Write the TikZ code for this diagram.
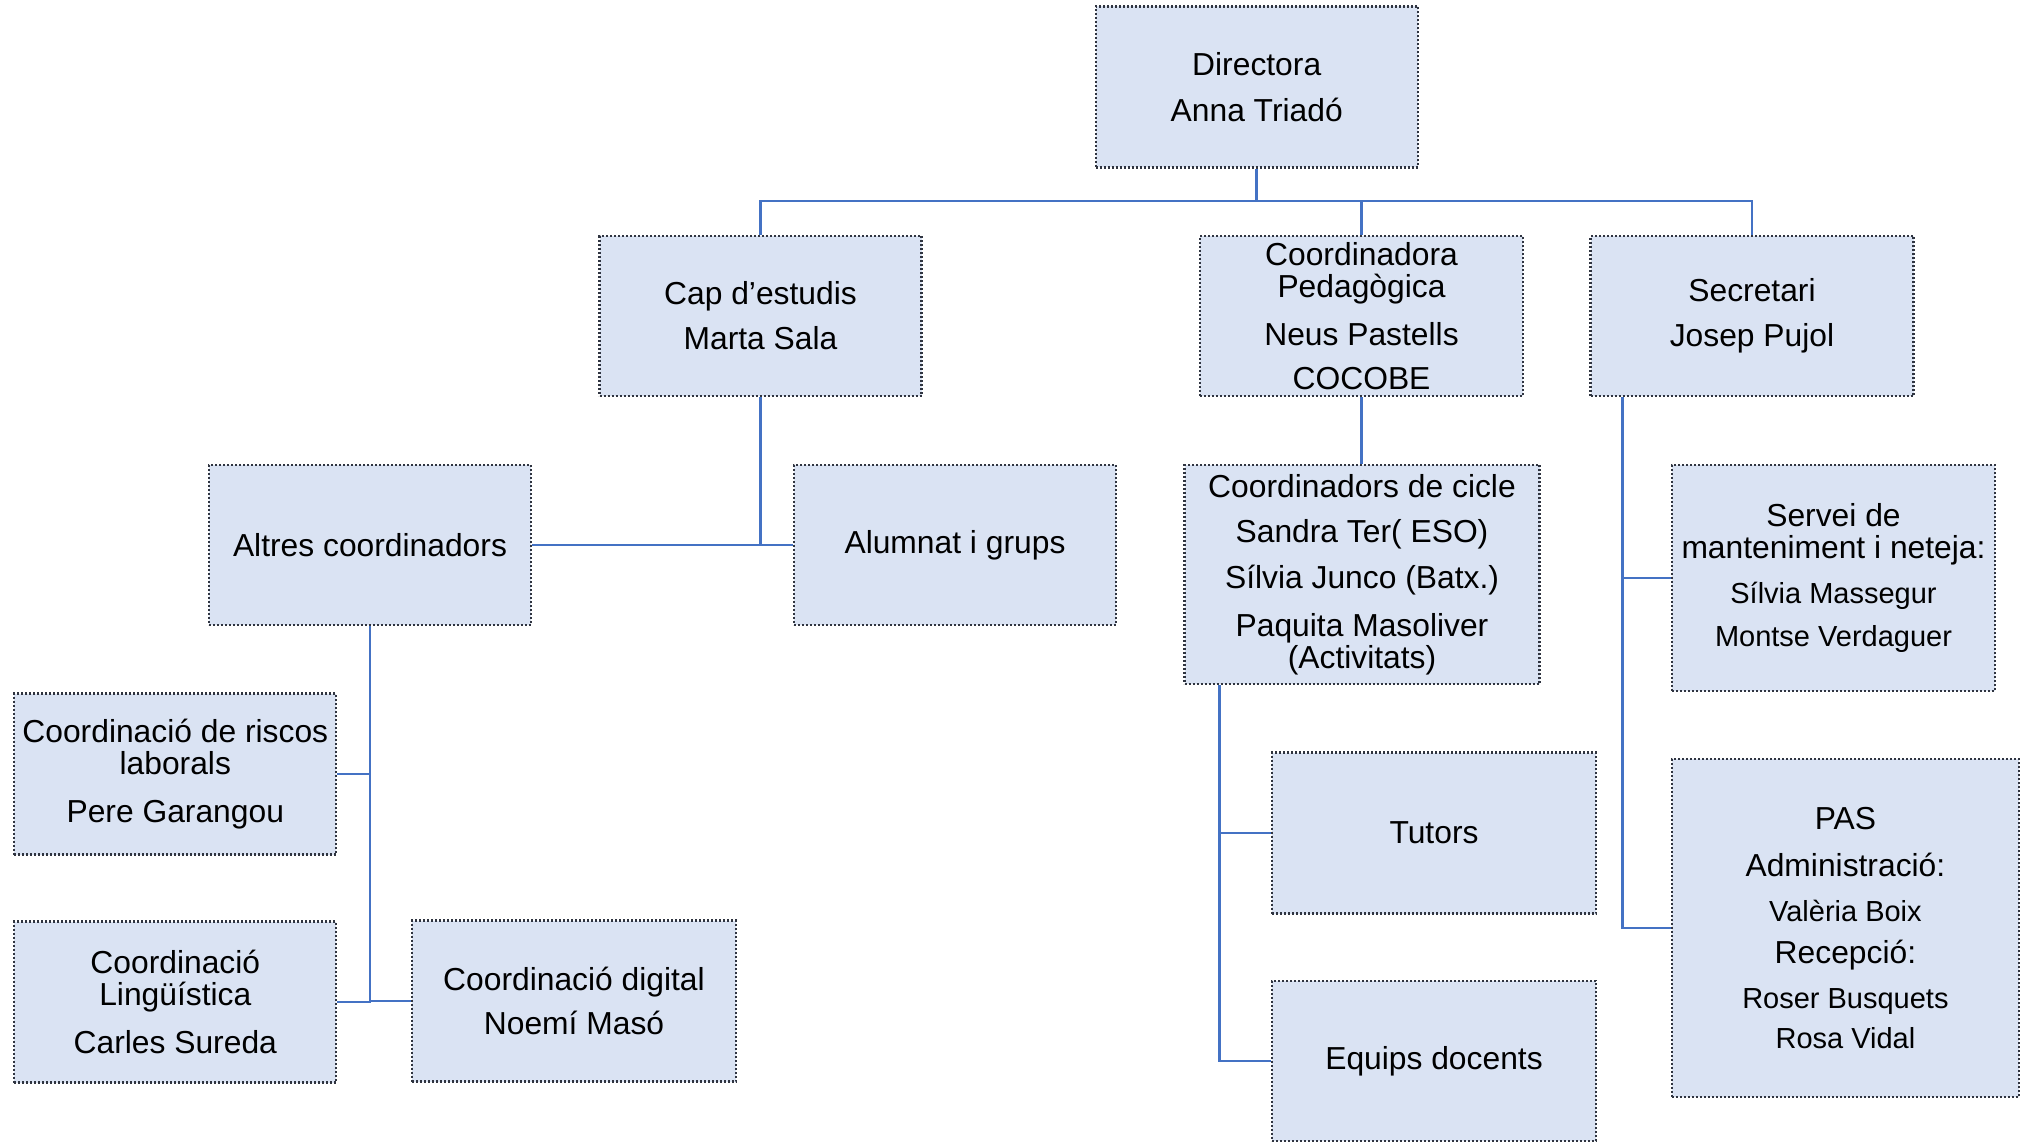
\documentclass[tikz,border=0pt]{standalone}
\usepackage{fontspec}
\setmainfont{Liberation Sans}
\newcommand\mainsz{\fontsize{31.8}{32}\selectfont}
\newcommand\smallsz{\fontsize{29}{32}\selectfont}
\definecolor{boxfill}{HTML}{DAE3F3}
\definecolor{boxline}{HTML}{2F3440}
\definecolor{connblue}{HTML}{4472C4}
\begin{document}
\begin{tikzpicture}[x=1pt,y=-1pt,
  orgbox/.style={draw=boxline, fill=boxfill, line width=2.2pt,
    dash pattern=on 2pt off 2pt, align=center, inner sep=0pt,
    font=\mainsz, minimum width=322pt, minimum height=161pt},
  conn/.style={draw=connblue, line width=2.8pt}]
\useasboundingbox (0,0) rectangle (2021,1142);

% level 0
\node[orgbox] (dir) at (1256.7,87) {Directora\\[14pt]Anna Triadó};
% level 1
\node[orgbox, minimum height=160pt] (cap) at (760.5,316) {Cap d’estudis\\[13pt]Marta Sala};
\node[orgbox, minimum width=323pt, minimum height=160pt] (ped) at (1361.5,316)
  {Coordinadora\\Pedagògica\\[16pt]Neus Pastells\\[12pt]COCOBE};
\node[orgbox, minimum width=323pt, minimum height=160pt] (sec) at (1752,316) {Secretari\\[13pt]Josep Pujol};
% level 2
\node[orgbox, minimum height=160pt] (alt) at (370,545) {Altres coordinadors};
\node[orgbox, minimum height=160pt] (alu) at (955,545) {Alumnat i grups};
\node[orgbox, minimum width=355pt, minimum height=219pt] (cic) at (1362,574.5)
  {Coordinadors de cicle\\[13pt]Sandra Ter( ESO)\\[14pt]Sílvia Junco (Batx.)\\[16pt]Paquita Masoliver\\(Activitats)};
\node[orgbox, minimum width=323pt, minimum height=226pt] (ser) at (1833.5,578)
  {Servei de\\manteniment i neteja:\\[13pt]{\smallsz Sílvia Massegur}\\[11pt]{\smallsz Montse Verdaguer}};
% level 3
\node[orgbox] (ris) at (175.3,774) {Coordinació de riscos\\laborals\\[16pt]Pere Garangou};
\node[orgbox] (lin) at (175.3,1002) {Coordinació\\Lingüística\\[16pt]Carles Sureda};
\node[orgbox, minimum width=324pt] (dig) at (574,1001) {Coordinació digital\\[12pt]Noemí Masó};
\node[orgbox, minimum width=324pt] (tut) at (1434,833) {Tutors};
\node[orgbox, minimum width=324pt, minimum height=160pt] (equ) at (1434,1061) {Equips docents};
\node[orgbox, minimum width=347pt, minimum height=338pt] (pas) at (1845.4,928)
  {PAS\\[15pt]Administració:\\[13pt]{\smallsz Valèria Boix}\\[10pt]Recepció:\\[13pt]{\smallsz Roser Busquets}\\[8pt]{\smallsz Rosa Vidal}};

% connectors
\coordinate (bus) at (1256.7,201);
\coordinate (cvx) at (1219.3,0);
\coordinate (svx) at (1622.7,0);
\draw[conn] (dir.south) -- (bus);
\draw[conn] (cap.north) |- (bus) -| (sec.north);
\draw[conn] (ped.north) -- (ped.north |- bus);
\draw[conn] (alt.east) -- (alu.west);
\draw[conn] (cap.south) -- (cap.south |- alt.east);
\draw[conn] (ped.south) -- (ped.south |- cic.north);
\draw[conn] (cic.south -| cvx) |- (equ.west);
\draw[conn] (cvx |- tut.west) -- (tut.west);
\draw[conn] (sec.south -| svx) |- (pas.west);
\draw[conn] (svx |- ser.west) -- (ser.west);
\draw[conn] (alt.south) |- (lin.east);
\draw[conn] (alt.south |- dig.west) -- (dig.west);
\draw[conn] (alt.south |- ris.east) -- (ris.east);
\end{tikzpicture}
\end{document}
